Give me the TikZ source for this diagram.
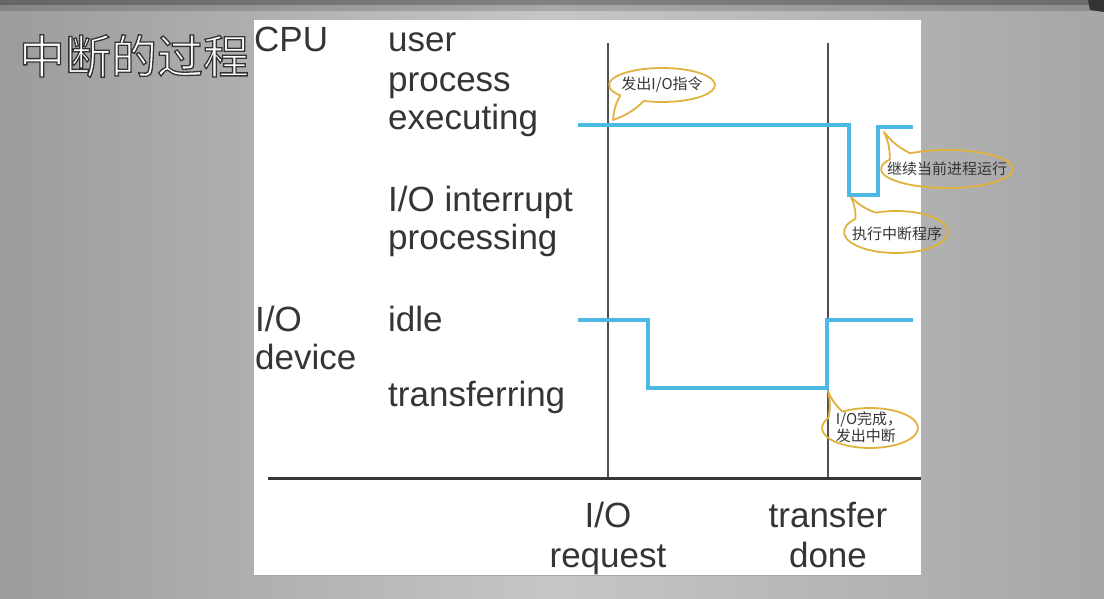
\documentclass[tikz,border=0pt]{standalone}
\usepackage{fontspec}
\setmainfont{Liberation Sans}
\newfontfamily\cjk{Noto Sans CJK SC}
\usetikzlibrary{calc}
\definecolor{txt}{HTML}{353535}
\definecolor{sig}{HTML}{4DB8E2}
\definecolor{gold}{HTML}{E2B23F}
\definecolor{bgL}{HTML}{9C9C9C}
\definecolor{bgM}{HTML}{C6C6C6}
\definecolor{bgR}{HTML}{A6A6A6}
\definecolor{rule}{HTML}{505050}
\newcommand{\outlinetext}[1]{\special{pdf:code q 0.2 G 1.3 w 2 Tr}#1\special{pdf:code 0 Tr Q}}
\begin{document}
\begin{tikzpicture}[x=1pt,y=1pt,
  lbl/.style={anchor=base west, inner sep=0pt, font=\fontsize{35}{40}\selectfont, text=txt},
  clbl/.style={anchor=base, inner sep=0pt, font=\fontsize{35}{40}\selectfont, text=txt},
  btxt/.style={inner sep=0pt, font=\cjk\fontsize{15}{17}\selectfont, text=txt, align=center},
  bub/.style={draw=gold, line width=1.8pt, line join=round},
  sigline/.style={draw=sig, line width=3.5pt, line join=miter},
  vrule/.style={draw=rule, line width=2pt},
  ttl/.style={inner sep=0pt, font=\cjk\fontsize{46}{50}\selectfont}]
\useasboundingbox (0,0) rectangle (1104,598);
% background
\shade[left color=bgL, right color=bgR, middle color=bgM] (0,0) rectangle (1104,598);
\fill[black, opacity=0.35] (0,593) rectangle (1104,598);
\fill[black, opacity=0.15] (0,587) rectangle (1104,593);
\fill[black!80] (1088,598) -- (1104,598) -- (1104,586) -- (1090,588) -- cycle;
% panel
\fill[white] (254,22) rectangle (921,578);
\draw[gray!70, line width=1.5pt] (254,22.5) -- (921,22.5);
% title
\node[ttl, text=white] (title) at (134,542) {\outlinetext{中断的过程}};
% vertical time markers and axis
\coordinate (r0t) at (608,555); \coordinate (r0b) at (608,120);
\coordinate (r1t) at (828,555); \coordinate (r1b) at (828,120);
\coordinate (a0) at (268,120); \coordinate (a1) at (921,120);
\draw[vrule] (r0t) -- (r0b);
\draw[vrule] (r1t) -- (r1b);
\draw[draw=txt, line width=3pt] (a0) -- (a1);
% labels
\node[lbl] (cpu) at (254,546) {CPU};
\node[lbl] (l1) at (388,546) {user};
\node[lbl] (l2) at (388,506) {process};
\node[lbl] (l3) at (388,468) {executing};
\node[lbl] (l4) at (388,386) {I/O interrupt};
\node[lbl] (l5) at (388,348) {processing};
\node[lbl] (iod1) at (255,266) {I/O};
\node[lbl] (iod2) at (255,228) {device};
\node[lbl] (l6) at (388,266) {idle};
\node[lbl] (l7) at (388,191) {transferring};
\node[clbl] (t1) at (608,71) {I/O};
\node[clbl] (t2) at (608,31) {request};
\node[clbl] (t3) at (828,71) {transfer};
\node[clbl] (t4) at (828,31) {done};
% CPU signal
\coordinate (c0) at (578,473); \coordinate (c1) at (849,473);
\coordinate (c2) at (849,403); \coordinate (c3) at (878,403);
\coordinate (c4) at (878,471); \coordinate (c5) at (913,471);
\draw[sigline] (c0) -- (c1) -- (c2) -- (c3) -- (c4) -- (c5);
% I/O signal
\coordinate (d0) at (578,278); \coordinate (d1) at (648,278);
\coordinate (d2) at (648,210); \coordinate (d3) at (827,210);
\coordinate (d4) at (827,278); \coordinate (d5) at (913,278);
\draw[sigline] (d0) -- (d1) -- (d2) -- (d3) -- (d4) -- (d5);
% bubbles
\node[btxt] (b1) at (662,513) {发出I/O指令};
\coordinate (tip1) at (613,478);
\draw[bub] ($(b1.center)+(250:53 and 17)$) arc[start angle=250, end angle=578, x radius=53, y radius=17]
   to[bend right=12] (tip1) to[bend right=12] cycle;
\node[btxt] (b2) at (947,429) {继续当前进程运行};
\coordinate (tip2) at (884,466);
\draw[bub] ($(b2.center)+(150:66 and 19)$) arc[start angle=150, end angle=484, x radius=66, y radius=19]
   to[bend left=12] (tip2) to[bend left=12] cycle;
\node[btxt] (b3) at (897,364) {执行中断程序};
\coordinate (tip3) at (851,401);
\draw[bub] ($(896,366)+(141:52 and 21)$) arc[start angle=141, end angle=473, x radius=52, y radius=21]
   to[bend left=12] (tip3) to[bend left=12] cycle;
\node[btxt, align=left] (b4) at (869,171) {I/O完成，\\发出中断};
\coordinate (tip4) at (828,207);
\draw[bub] ($(870,170)+(150:48 and 20)$) arc[start angle=150, end angle=485, x radius=48, y radius=20]
   to[bend left=12] (tip4) to[bend left=12] cycle;
\end{tikzpicture}
\end{document}
